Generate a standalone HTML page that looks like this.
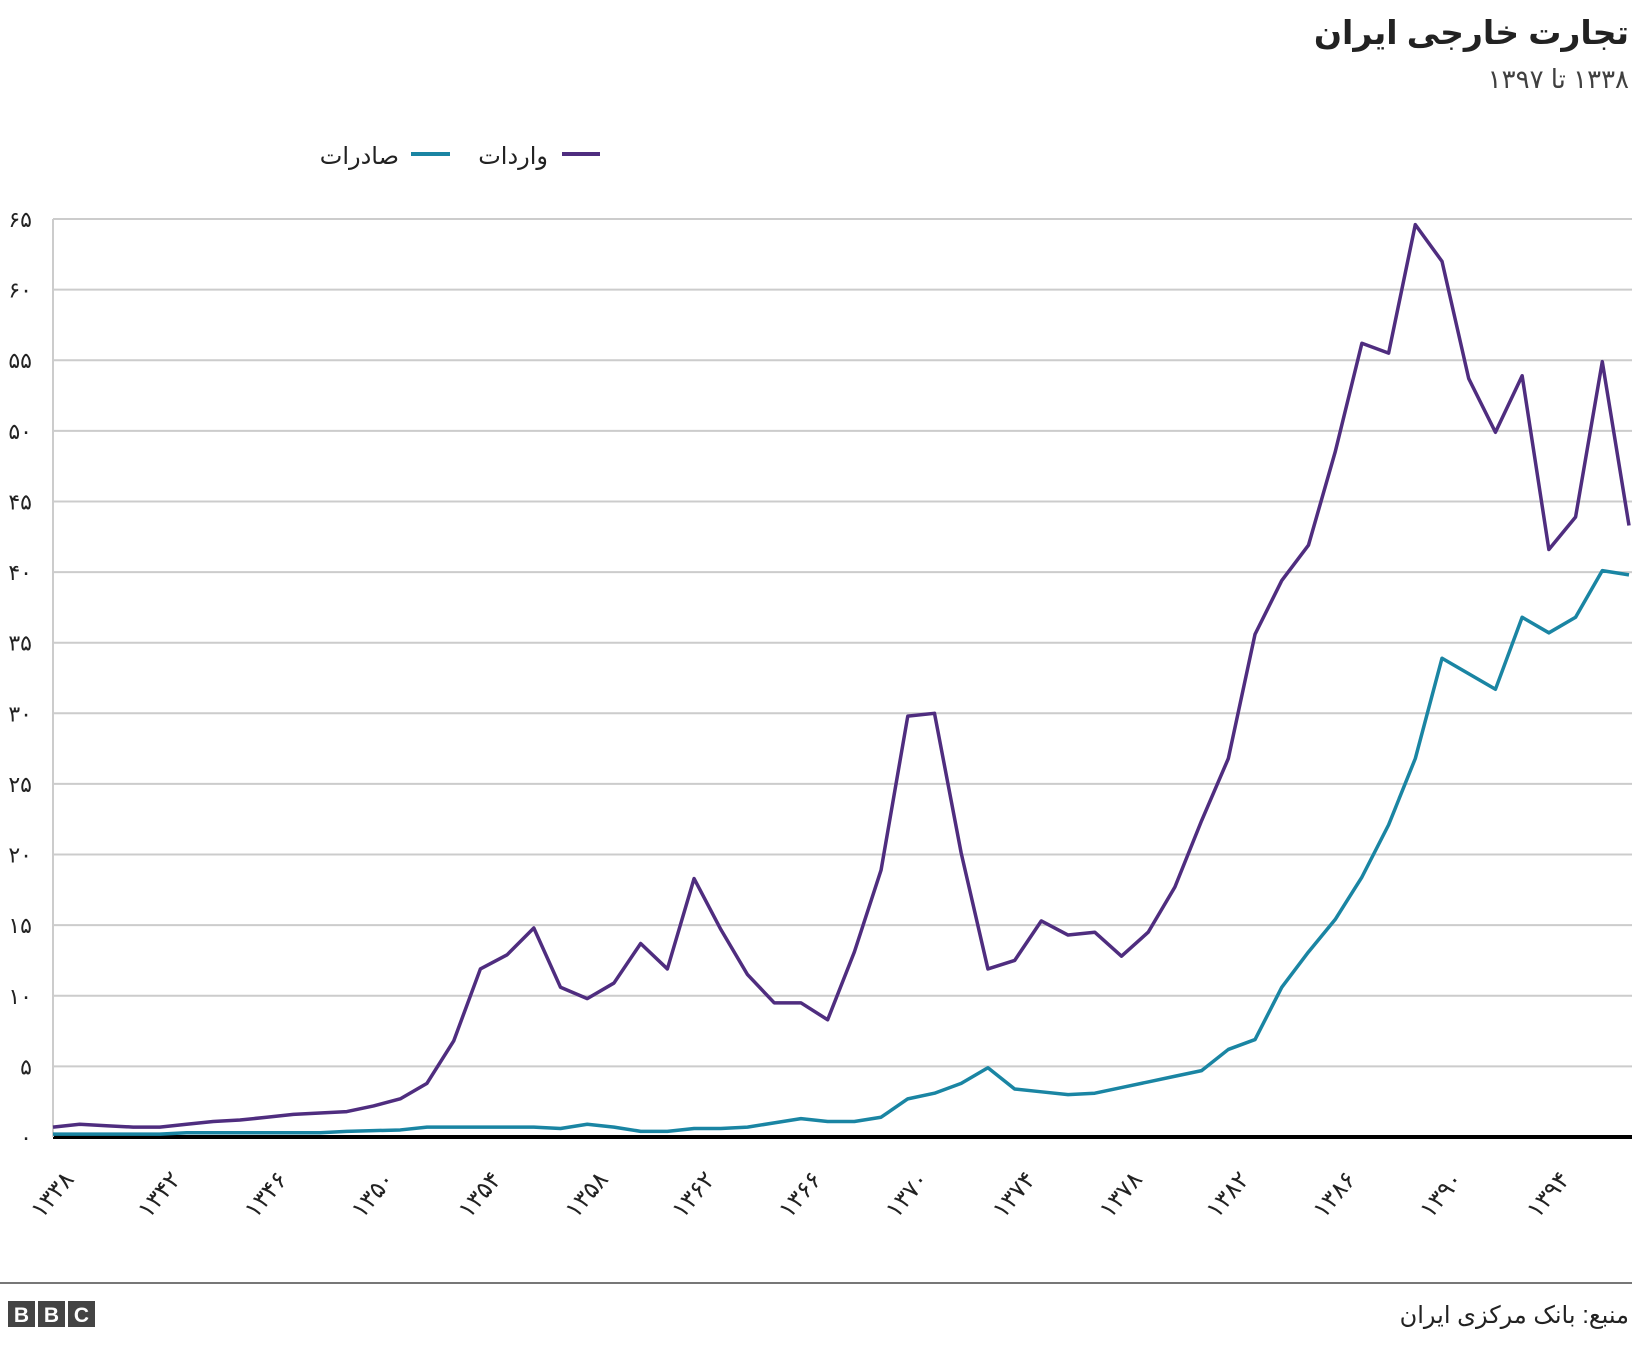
<!DOCTYPE html>
<html><head><meta charset="utf-8"><style>
body{margin:0;background:#fff;width:1632px;height:1340px;overflow:hidden;font-family:"Liberation Sans","DejaVu Sans",sans-serif}
</style></head><body>
<svg width="1632" height="1340" xmlns="http://www.w3.org/2000/svg">
<text x="1629" y="44" text-anchor="end" font-size="33" font-weight="bold" fill="#222">تجارت خارجی ایران</text>
<text x="1629" y="88" direction="rtl" text-anchor="start" font-size="26" fill="#404040">۱۳۳۸ تا ۱۳۹۷</text>
<g>
<line x1="562" y1="154" x2="600" y2="154" stroke="#4f2d7f" stroke-width="4"/>
<text x="548" y="164" text-anchor="end" font-size="24" fill="#222">واردات</text>
<line x1="411" y1="154" x2="450" y2="154" stroke="#1a85a3" stroke-width="4"/>
<text x="399" y="164" text-anchor="end" font-size="24" fill="#222">صادرات</text>
</g>
<g id="grid"></g><g id="xl"></g><g id="series"></g>
<line x1="0" y1="1283" x2="1632" y2="1283" stroke="#777" stroke-width="2"/>
<g>
<rect x="8" y="1301" width="27" height="26" fill="#444"/><rect x="38" y="1301" width="27" height="26" fill="#444"/><rect x="68" y="1301" width="27" height="26" fill="#444"/>
<text x="21.5" y="1322" text-anchor="middle" font-size="21" font-weight="bold" fill="#fff">B</text>
<text x="51.5" y="1322" text-anchor="middle" font-size="21" font-weight="bold" fill="#fff">B</text>
<text x="81.5" y="1322" text-anchor="middle" font-size="21" font-weight="bold" fill="#fff">C</text>
</g>
<text x="1629" y="1323" text-anchor="end" font-size="24" fill="#222">منبع: بانک مرکزی ایران</text>
</svg>
<script>
const years=[];for(let y=1338;y<=1397;y++)years.push(y);
const imports=[0.7,0.9,0.8,0.7,0.7,0.9,1.1,1.2,1.4,1.6,1.7,1.8,2.2,2.7,3.8,6.8,11.9,12.9,14.8,10.6,9.8,10.9,13.7,11.9,18.3,14.7,11.5,9.5,9.5,8.3,13.1,18.9,29.8,30.0,20.1,11.9,12.5,15.3,14.3,14.5,12.8,14.5,17.7,22.4,26.8,35.6,39.4,41.9,48.5,56.2,55.5,64.6,62.0,53.7,49.9,53.9,41.6,43.9,54.9,43.3];
const exports=[0.2,0.2,0.2,0.2,0.2,0.3,0.3,0.3,0.3,0.3,0.3,0.4,0.45,0.5,0.7,0.7,0.7,0.7,0.7,0.6,0.9,0.7,0.4,0.4,0.6,0.6,0.7,1.0,1.3,1.1,1.1,1.4,2.7,3.1,3.8,4.9,3.4,3.2,3.0,3.1,3.5,3.9,4.3,4.7,6.2,6.9,10.6,13.1,15.4,18.4,22.1,26.8,33.9,32.8,31.7,36.8,35.7,36.8,40.1,39.8];
const yTicks=[0,5,10,15,20,25,30,35,40,45,50,55,60,65];
const xTicks=[1338,1342,1346,1350,1354,1358,1362,1366,1370,1374,1378,1382,1386,1390,1394];
const NS='http://www.w3.org/2000/svg';
const X=y=>53+(y-1338)*(1629-53)/59;
const Y=v=>1137-v*(1137-219)/65;
const fa=n=>String(n).replace(/\d/g,d=>'۰۱۲۳۴۵۶۷۸۹'[d]);
function mk(t,a,p){const e=document.createElementNS(NS,t);for(const k in a)e.setAttribute(k,a[k]);p.appendChild(e);return e;}
const g=document.getElementById('grid');
yTicks.forEach(v=>{
 const l=mk('line',{x1:53,x2:1632,y1:Y(v),y2:Y(v),stroke:v===0?'#000':'#ccc','stroke-width':v===0?4:2},g);
 
 
 const t=mk('text',{x:32,y:Y(v)+8,'text-anchor':'end','font-size':22,fill:'#222'},g);
 t.textContent=fa(v);
 
 
});
mk('line',{x1:53,x2:53,y1:219,y2:1137,stroke:'#ccc','stroke-width':2},g);
const xl=document.getElementById('xl');
xTicks.forEach(yr=>{
 const x=X(yr)+22,y=1180;
 const t=mk('text',{x:x,y:y,'text-anchor':'end','font-size':24,fill:'#222',transform:`rotate(-50 ${x} ${y})`},xl);
 t.textContent=fa(yr);
 
 
});
const s=document.getElementById('series');
[[exports,'#1a85a3','exports-line'],[imports,'#4f2d7f','imports-line']].forEach(([d,c,n])=>{
 const p=mk('polyline',{points:d.map((v,i)=>X(years[i])+','+Y(v)).join(' '),fill:'none',stroke:c,'stroke-width':3.5,'stroke-linejoin':'round'},s);
 
 
});
</script>
</body></html>
